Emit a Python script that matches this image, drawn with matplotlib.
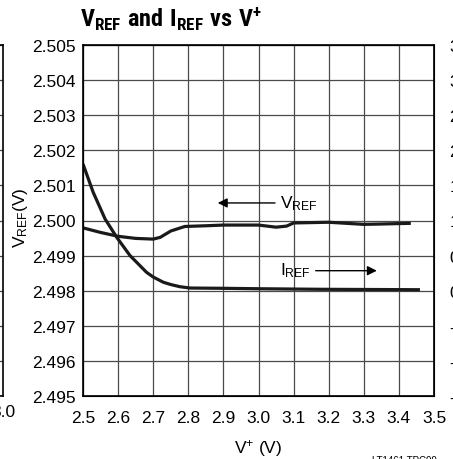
import numpy as np
import matplotlib
matplotlib.use("Agg")
import matplotlib.pyplot as plt

plt.rcParams["font.family"] = ["Liberation Sans", "DejaVu Sans"]
plt.rcParams["mathtext.fontset"] = "custom"
plt.rcParams["mathtext.rm"] = "Liberation Sans"
plt.rcParams["mathtext.it"] = "Liberation Sans:italic"
plt.rcParams["mathtext.bf"] = "Roboto Condensed:bold"

# V_REF (left axis, volts) vs supply voltage
vref_x = [2.50, 2.55, 2.60, 2.65, 2.70, 2.72, 2.75, 2.79, 2.85, 2.90, 3.00,
          3.05, 3.08, 3.10, 3.20, 3.30, 3.35, 3.434]
vref_y = [2.49979, 2.49966, 2.49955, 2.49949, 2.49947, 2.49952, 2.49970, 2.49983,
          2.49985, 2.49987, 2.49987, 2.49981, 2.49984, 2.49993, 2.49995, 2.49989,
          2.49990, 2.49992]

# I_REF (right axis) vs supply voltage
iref_x = [2.50, 2.529, 2.563, 2.596, 2.634, 2.681, 2.70, 2.729, 2.75, 2.776, 2.805,
          2.90, 3.00, 3.18, 3.46]
iref_y = [1.805, 1.402, 1.021, 0.761, 0.500, 0.262, 0.195, 0.120, 0.088, 0.057,
          0.038, 0.034, 0.028, 0.020, 0.014]

x_ticks = [2.5, 2.6, 2.7, 2.8, 2.9, 3.0, 3.1, 3.2, 3.3, 3.4, 3.5]
left_ticks = [2.495, 2.496, 2.497, 2.498, 2.499, 2.500, 2.501, 2.502, 2.503, 2.504, 2.505]
right_ticks = [-1.5, -1.0, -0.5, 0.0, 0.5, 1.0, 1.5, 2.0, 2.5, 3.0, 3.5]

W, H = 453, 460
fig = plt.figure(figsize=(W / 100, H / 100), dpi=100)

grid_kw = dict(color="#4a4a4a", linewidth=0.9)
fs = 12.5

# fragment of the neighbouring chart on the left
axl = fig.add_axes([-0.3, 1 - 397 / H, 0.3 + 3 / W, (397 - 46) / H])
axl.set_xlim(0, 3.0)
axl.set_ylim(0, 10)
axl.set_yticks(range(11))
axl.set_yticklabels([])
axl.set_xticks([3.0])
axl.set_xticklabels(["3.0"], fontsize=fs)
axl.tick_params(length=0, pad=6)
axl.grid(axis="y", **grid_kw)
for s in axl.spines.values():
    s.set_linewidth(1.2)

# main chart
ax = fig.add_axes([83 / W, 1 - 397 / H, (434 - 83) / W, (397 - 46) / H])
ax.set_xlim(2.5, 3.5)
ax.set_ylim(2.495, 2.505)
ax.set_xticks(x_ticks)
ax.set_xticklabels([f"{v:.1f}" for v in x_ticks], fontsize=fs)
ax.set_yticks(left_ticks)
ax.set_yticklabels([f"{v:.3f}" for v in left_ticks], fontsize=fs)
ax.tick_params(length=0)
ax.tick_params(axis="x", pad=10)
ax.tick_params(axis="y", pad=5)
ax.grid(True, **grid_kw)
ax.set_axisbelow(True)
for s in ax.spines.values():
    s.set_linewidth(1.2)

ax.plot(vref_x, vref_y, color="#1a1a1a", linewidth=2.3, solid_capstyle="butt")

ax2 = ax.twinx()
ax2.set_ylim(-1.5, 3.5)
ax2.set_yticks(right_ticks)
ax2.set_yticklabels([f"{v:.1f}" if v != 0 else "0" for v in right_ticks], fontsize=fs)
ax2.tick_params(length=0, pad=11)
ax2.plot(iref_x, iref_y, color="#1a1a1a", linewidth=2.3, solid_capstyle="butt")

ax.set_xlabel(r"V$^{+}$ (V)", fontsize=fs, labelpad=9)
fig.text(20 / W, 1 - 218 / H, r"V$_{\mathrm{REF}}$(V)", rotation=90,
         ha="center", va="center", fontsize=fs)

# annotations
ax.annotate("", xy=(2.876, 2.5005), xytext=(3.055, 2.5005),
            arrowprops=dict(arrowstyle="-|>", color="black", lw=1.0, mutation_scale=14))
ax.text(3.06, 2.5005, r"V$_{\mathrm{REF}}$", fontsize=fs, ha="left", va="center")
ax.text(3.06, 2.4986, r"I$_{\mathrm{REF}}$", fontsize=fs, ha="left", va="center")
ax.annotate("", xy=(3.345, 2.49857), xytext=(3.155, 2.49857),
            arrowprops=dict(arrowstyle="-|>", color="black", lw=1.0, mutation_scale=14))

fig.text(80 / W, 1 - 19 / H, r"$\mathbf{V_{REF}\ and\ I_{REF}\ vs\ V^{+}}$",
         fontsize=17.5, ha="left", va="center")

fig.text(372 / W, 1 - 456 / H, "LT1461 TPC09", fontsize=7, ha="left", va="top")

fig.savefig("out.png", dpi=100)
